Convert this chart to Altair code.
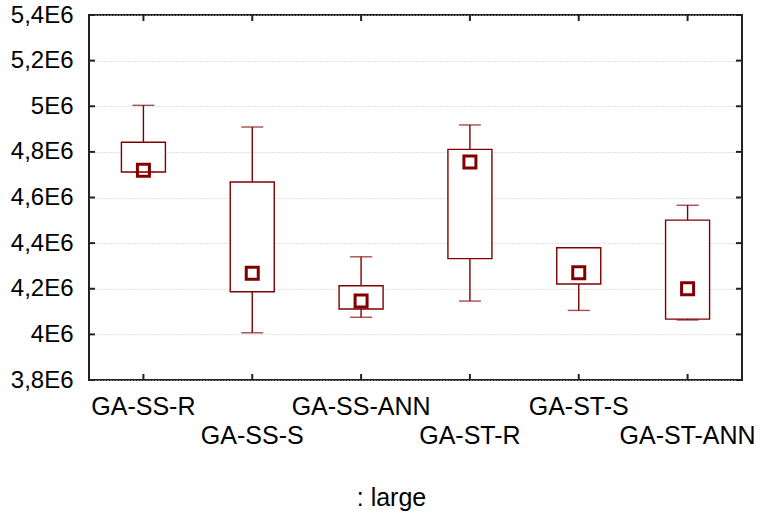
import altair as alt
import pandas as pd

cats = ["GA-SS-R", "GA-SS-S", "GA-SS-ANN", "GA-ST-R", "GA-ST-S", "GA-ST-ANN"]
whisker_hi = [5.004e6, 4.909e6, 4.340e6, 4.918e6, 4.380e6, 4.566e6]
box_hi = [4.842e6, 4.668e6, 4.213e6, 4.811e6, 4.380e6, 4.501e6]
box_lo = [4.712e6, 4.187e6, 4.111e6, 4.332e6, 4.221e6, 4.067e6]
whisker_lo = [4.712e6, 4.007e6, 4.075e6, 4.146e6, 4.105e6, 4.063e6]
median = [4.720e6, 4.268e6, 4.146e6, 4.756e6, 4.270e6, 4.200e6]
y_ticks = [3.8e6, 4.0e6, 4.2e6, 4.4e6, 4.6e6, 4.8e6, 5.0e6, 5.2e6, 5.4e6]
second_row = ["GA-SS-S", "GA-ST-R", "GA-ST-ANN"]
x_title = ": large"

df = pd.DataFrame({"cat": cats, "whi": whisker_hi, "q3": box_hi, "q1": box_lo,
                   "wlo": whisker_lo, "med": median})
ticks_df = pd.DataFrame({"v": y_ticks})

FONT = "Liberation Sans"
RED = "#800000"
FRAME = "#222222"

second_list = "[" + ",".join("'" + s + "'" for s in second_row) + "]"

x_axis = alt.Axis(
    title=x_title, titleFontSize=25, titleFont=FONT, titleFontWeight="normal",
    titleColor="black", titleX=302, titleY=125, titleAlign="center",
    titleBaseline="alphabetic", titleAnchor="start",
    labelAngle=0, labelFontSize=25, labelFont=FONT, labelColor="black",
    labelPadding=14, labelBaseline="top", labelLineHeight=29, labelOverlap=False,
    labelExpr=f"indexof({second_list}, datum.label) >= 0 ? ['', datum.label] : datum.label",
    ticks=False, domain=False, grid=False,
)
xs = alt.Scale(paddingInner=0, paddingOuter=0)

y_axis = alt.Axis(
    title=None, values=y_ticks,
    labelExpr="replace(format(datum.value / 1000000, '.1~f'), '.', ',') + 'E6'",
    labelFontSize=24, labelFont=FONT, labelColor="black", labelPadding=16,
    ticks=False, domain=False, grid=True, gridDash=[1, 2], gridColor="#c4c4c4",
    gridWidth=1,
)
ys = alt.Scale(domain=[3.8e6, 5.4e6], nice=False, zero=False)

def X():
    return alt.X("cat:N", sort=cats, scale=xs, axis=x_axis)

def Y(f):
    return alt.Y(f"{f}:Q", scale=ys, axis=y_axis, title=None)

base = alt.Chart(df)

whisker = base.mark_rule(color=RED, strokeWidth=1.4).encode(
    x=X(), y=Y("wlo"), y2="whi")
cap_hi = base.mark_tick(color=RED, size=22, thickness=1.4).encode(x=X(), y=Y("whi"))
cap_lo = base.mark_tick(color=RED, size=22, thickness=1.4).encode(x=X(), y=Y("wlo"))
box = base.mark_bar(size=44, fill="white", stroke=RED, strokeWidth=1.4).encode(
    x=X(), y=Y("q1"), y2="q3")
med = base.mark_point(shape="square", filled=False, size=144, color=RED,
                      strokeWidth=3, opacity=1).encode(x=X(), y=Y("med"))

tk = alt.Chart(ticks_df)
ytick_l = tk.mark_rule(color=FRAME, strokeWidth=2).encode(
    y=Y("v"), x=alt.value(0), x2=alt.value(6))
ytick_r = tk.mark_rule(color=FRAME, strokeWidth=2).encode(
    y=Y("v"), x=alt.value(647), x2=alt.value(653))
xtick_t = base.mark_rule(color=FRAME, strokeWidth=2).encode(
    x=X(), y=alt.value(0), y2=alt.value(6))
xtick_b = base.mark_rule(color=FRAME, strokeWidth=2).encode(
    x=X(), y=alt.value(359), y2=alt.value(365))

chart = alt.layer(whisker, cap_hi, cap_lo, box, med,
                  ytick_l, ytick_r, xtick_t, xtick_b).properties(
    width=653, height=365,
    padding={"left": 89, "top": 15, "right": 22, "bottom": 137},
    autosize=alt.AutoSizeParams(type="none"),
    background="white",
).configure_view(stroke=FRAME, strokeWidth=2)

chart.save("out.html", embed_options={"renderer": "svg", "actions": False})
